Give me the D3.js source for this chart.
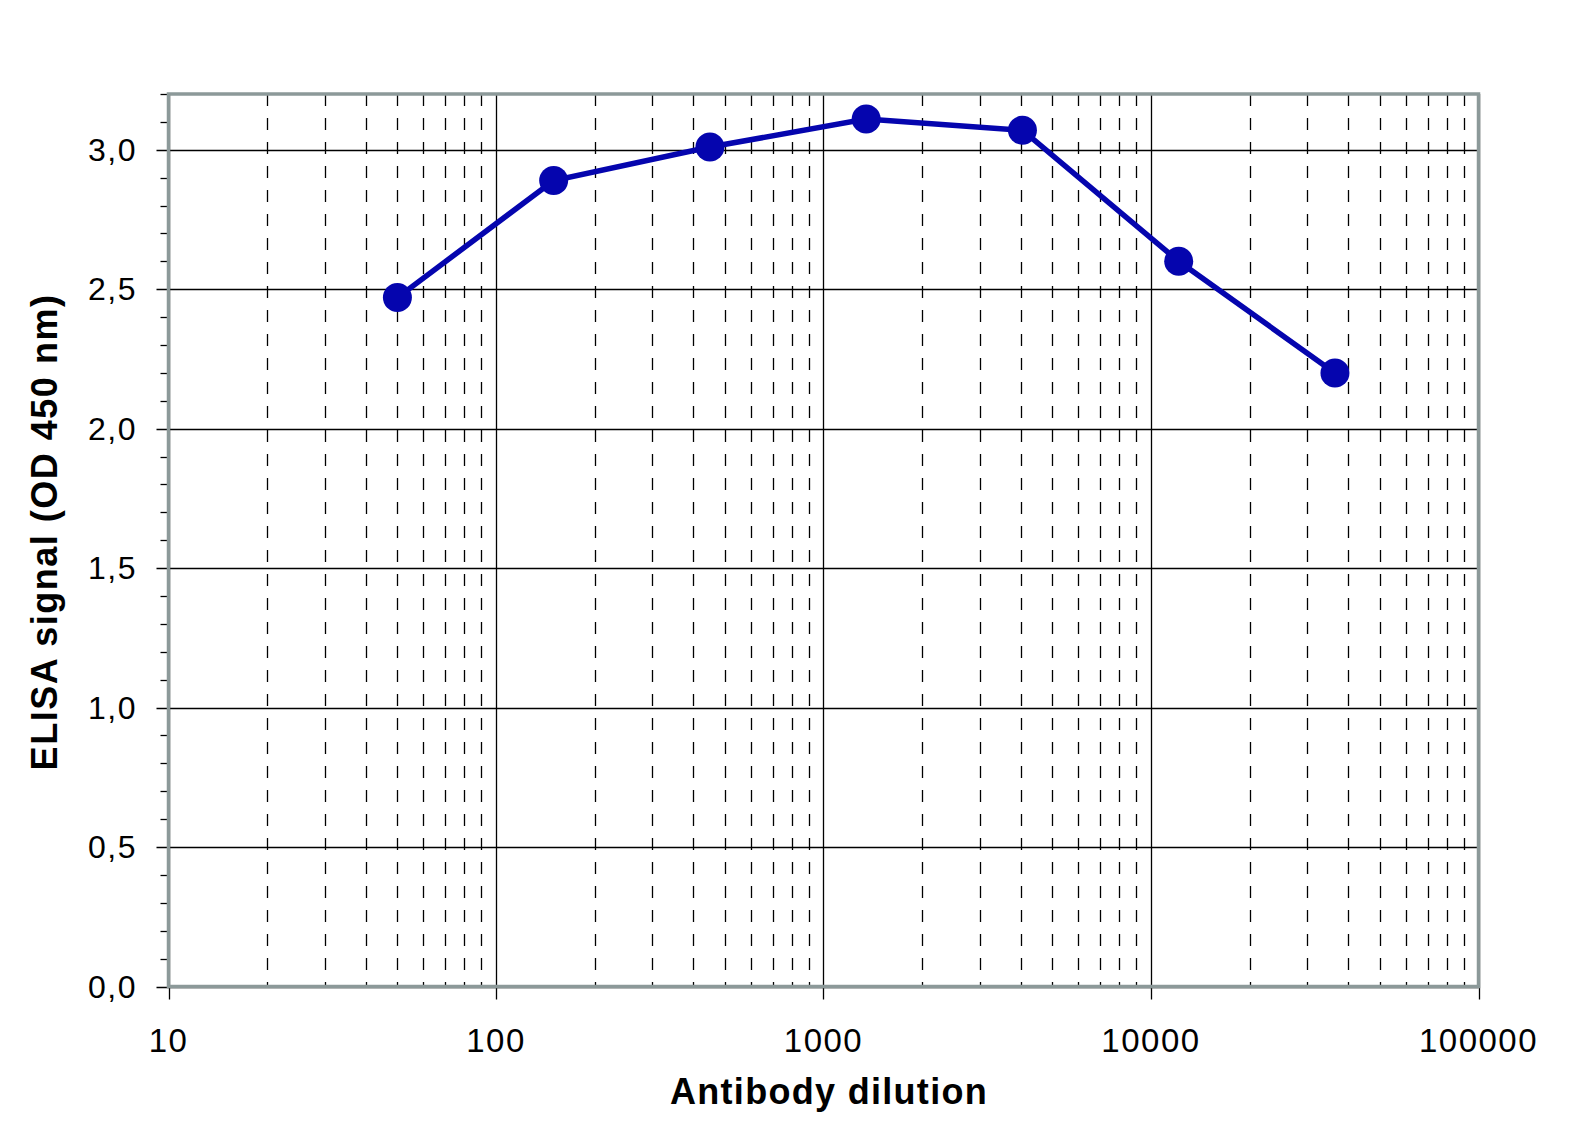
<!doctype html>
<html>
<head>
    <meta charset="utf-8">
    <title>ELISA</title>
    <style>
    body { margin: 0; background: #fff; }
    text { font-family: "Liberation Sans", Arial, sans-serif; }
    </style>
    <script src="https://d3js.org/d3.v7.min.js"></script>
</head>
<body>
    <script>
    // dilutions and OD readings
    var dilutions = [50, 150, 450, 1350, 4050, 12150, 36450];
    var signal = [2.47, 2.89, 3.01, 3.11, 3.07, 2.60, 2.20];
    var xTicks = [10, 100, 1000, 10000, 100000];
    var yTicks = [0, 0.5, 1.0, 1.5, 2.0, 2.5, 3.0];

    var w = 1569,
        h = 1141,
        pL = 168.5,
        pR = 1478.5,
        pT = 94,
        pB = 986.5;

    var svg = d3.select("body").append("svg")
        .attr("width", w)
        .attr("height", h);

    var x = d3.scaleLog().domain([10, 100000]).range([pL, pR]);
    var y = d3.scaleLinear().domain([0, 3.2]).range([pB, pT]);

    function px(v) { return Math.round(v) + 0.5; }

    // minor x gridlines, dashed
    var minor = [];
    xTicks.slice(0, -1).forEach(function(d) {
        for (var k = 2; k < 10; k++) minor.push(d * k);
    });
    svg.append("g").selectAll("line")
        .data(minor)
        .enter().append("line")
        .attr("x1", function(d) { return px(x(d)); })
        .attr("x2", function(d) { return px(x(d)); })
        .attr("y1", pT)
        .attr("y2", pB)
        .attr("stroke", "#000")
        .attr("stroke-width", 1.3)
        .attr("stroke-dasharray", "12,12");

    // major x gridlines + ticks
    svg.append("g").selectAll("line")
        .data(xTicks)
        .enter().append("line")
        .attr("x1", function(d) { return px(x(d)); })
        .attr("x2", function(d) { return px(x(d)); })
        .attr("y1", pT)
        .attr("y2", pB + 13)
        .attr("stroke", "#000")
        .attr("stroke-width", 1.3);

    // horizontal gridlines + major ticks
    svg.append("g").selectAll("line")
        .data(yTicks)
        .enter().append("line")
        .attr("x1", pL - 12)
        .attr("x2", pR)
        .attr("y1", function(d) { return px(y(d)); })
        .attr("y2", function(d) { return px(y(d)); })
        .attr("stroke", "#000")
        .attr("stroke-width", 1.3);

    // minor y ticks every 0.1
    var yMinor = d3.range(0, 33).map(function(i) { return i / 10; })
        .filter(function(d) { return Math.round(d * 10) % 5 !== 0; });
    svg.append("g").selectAll("line")
        .data(yMinor)
        .enter().append("line")
        .attr("x1", pL - 8)
        .attr("x2", pL)
        .attr("y1", function(d) { return px(y(d)); })
        .attr("y2", function(d) { return px(y(d)); })
        .attr("stroke", "#000")
        .attr("stroke-width", 1.3);

    // plot frame
    svg.append("rect")
        .attr("x", pL)
        .attr("y", pT)
        .attr("width", pR - pL)
        .attr("height", pB - pT)
        .attr("fill", "none")
        .attr("stroke", "#8c9999")
        .attr("stroke-width", 3.5);

    // tick labels
    svg.append("g").selectAll("text")
        .data(yTicks)
        .enter().append("text")
        .attr("x", 137)
        .attr("y", function(d) { return y(d) + 11; })
        .attr("text-anchor", "end")
        .attr("font-size", 32)
        .attr("letter-spacing", 1.5)
        .text(function(d) { return d3.format(".1f")(d).replace(".", ","); });

    svg.append("g").selectAll("text")
        .data(xTicks)
        .enter().append("text")
        .attr("x", function(d) { return x(d); })
        .attr("y", 1052)
        .attr("text-anchor", "middle")
        .attr("font-size", 33)
        .attr("letter-spacing", 1.5)
        .text(function(d) { return d; });

    // axis titles
    svg.append("text")
        .attr("x", 829)
        .attr("y", 1104)
        .attr("text-anchor", "middle")
        .attr("font-size", 36)
        .attr("letter-spacing", 1.3)
        .attr("font-weight", "bold")
        .text("Antibody dilution");

    svg.append("text")
        .attr("transform", "translate(57,532)rotate(-90)")
        .attr("text-anchor", "middle")
        .attr("font-size", 36)
        .attr("letter-spacing", 1.5)
        .attr("font-weight", "bold")
        .text("ELISA signal (OD 450 nm)");

    // series
    var pts = dilutions.map(function(d, i) { return [d, signal[i]]; });
    var line = d3.line()
        .x(function(d) { return x(d[0]); })
        .y(function(d) { return y(d[1]); });

    svg.append("path")
        .datum(pts)
        .attr("d", line)
        .attr("fill", "none")
        .attr("stroke", "#0505ae")
        .attr("stroke-width", 5.5);

    svg.append("g").selectAll("circle")
        .data(pts)
        .enter().append("circle")
        .attr("cx", function(d) { return x(d[0]); })
        .attr("cy", function(d) { return y(d[1]); })
        .attr("r", 14.5)
        .attr("fill", "#0505ae");
    </script>
</body>
</html>
